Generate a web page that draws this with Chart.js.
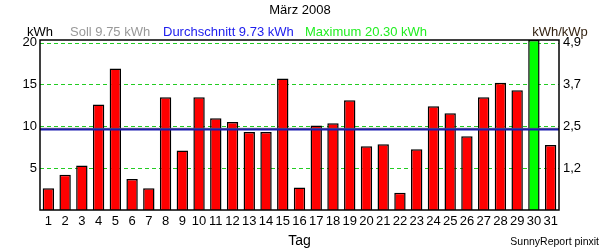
<!DOCTYPE html>
<html>
<head>
<meta charset="utf-8">
<script src="https://cdn.jsdelivr.net/npm/chart.js@4/dist/chart.umd.min.js"></script>
<style>
  html, body { margin: 0; padding: 0; background: #fff; }
  #wrap { width: 600px; height: 250px; position: relative; }
</style>
</head>
<body>
<div id="wrap"><canvas id="dayChart"></canvas></div>
<script>
// Tagesertrag März 2008 (kWh)
const days = ['1','2','3','4','5','6','7','8','9','10','11','12','13','14','15','16',
              '17','18','19','20','21','22','23','24','25','26','27','28','29','30','31'];
const yields = [2.6, 4.2, 5.3, 12.6, 16.9, 3.7, 2.6, 13.45, 7.1, 13.45,
                10.95, 10.5, 9.3, 9.3, 15.7, 2.7, 10.1, 10.35, 13.1, 7.6,
                7.85, 2.05, 7.25, 12.4, 11.55, 8.8, 13.45, 15.2, 14.3, 20.3, 7.75];
const leftTicks = [5, 10, 15, 20];
const rightTickLabels = ['1,2', '2,5', '3,7', '4,9'];
const soll = 9.75;
const average = 9.73;
const maximum = 20.30;

const fontFamily = '"Liberation Sans", Arial, sans-serif';
const maxValue = Math.max(...yields);
const barColors = yields.map(v => v === maxValue ? '#00ff00' : '#ff0000');

function hLine(ctx, area, y, color, width, dash) {
    ctx.strokeStyle = color;
    ctx.lineWidth = width;
    ctx.setLineDash(dash || []);
    ctx.beginPath();
    ctx.moveTo(area.left, y);
    ctx.lineTo(area.right, y);
    ctx.stroke();
}

// Gitter, Soll/Durchschnitt-Linien, Überschrift und Legendenzeile
const reportPlugin = {
    id: 'report',
    beforeDatasetsDraw(chart) {
        const { ctx, chartArea, scales } = chart;
        ctx.save();
        leftTicks.forEach(v => {
            hLine(ctx, chartArea, Math.round(scales.y.getPixelForValue(v)) + 0.5, '#22cc22', 1, [4, 3]);
        });
        ctx.restore();
    },
    afterDatasetsDraw(chart) {
        const { ctx, chartArea, scales } = chart;
        ctx.save();
        hLine(ctx, chartArea, scales.y.getPixelForValue(soll), '#666666', 1);
        hLine(ctx, chartArea, scales.y.getPixelForValue(average) + 1, '#1a1ab0', 2);
        // Rahmen
        ctx.setLineDash([]);
        ctx.strokeStyle = '#000';
        ctx.lineWidth = 1.5;
        ctx.strokeRect(chartArea.left, chartArea.top, chartArea.right - chartArea.left, chartArea.bottom - chartArea.top);
        ctx.restore();
    },
    afterDraw(chart) {
        const { ctx, chartArea } = chart;
        ctx.save();
        ctx.textBaseline = 'middle';
        ctx.font = '13px ' + fontFamily;
        ctx.fillStyle = '#000';
        ctx.textAlign = 'center';
        ctx.fillText('März 2008', 300, 10);

        ctx.fillText('kWh', chartArea.left, 32);
        ctx.fillStyle = '#332211';
        ctx.fillText('kWh/kWp', chartArea.right + 1, 32);

        ctx.textAlign = 'left';
        ctx.fillStyle = '#999999';
        ctx.fillText('Soll ' + soll.toFixed(2) + ' kWh', 70, 32);
        ctx.fillStyle = '#2020ee';
        ctx.fillText('Durchschnitt ' + average.toFixed(2) + ' kWh', 163, 32);
        ctx.fillStyle = '#22ee22';
        ctx.fillText('Maximum ' + maximum.toFixed(2) + ' kWh', 305, 32);

        ctx.font = '10.5px ' + fontFamily;
        ctx.fillStyle = '#000';
        ctx.textAlign = 'right';
        ctx.fillText('SunnyReport pinxit', 599, 242);
        ctx.restore();
    }
};

const ctx = document.getElementById('dayChart').getContext('2d');
const dayChart = new Chart(ctx, {
    type: 'bar',
    data: {
        labels: days,
        datasets: [{
            data: yields,
            backgroundColor: barColors,
            borderColor: '#000',
            borderWidth: 1.5,
            borderSkipped: 'bottom',
            barPercentage: 0.68,
            categoryPercentage: 1.0
        }]
    },
    options: {
        responsive: true,
        maintainAspectRatio: false,
        animation: false,
        layout: { padding: { top: 40, left: 0, right: 0, bottom: 0 } },
        plugins: {
            legend: { display: false },
            tooltip: { enabled: false }
        },
        scales: {
            x: {
                grid: { display: false, drawTicks: false },
                border: { display: false },
                ticks: {
                    color: '#000',
                    font: { family: fontFamily, size: 13 },
                    padding: 4,
                    maxRotation: 0,
                    autoSkip: false
                },
                title: {
                    display: true,
                    text: 'Tag',
                    color: '#000',
                    font: { family: fontFamily, size: 14 },
                    padding: { top: 0, bottom: 0 }
                },
                afterFit: s => { s.height = 40; }
            },
            y: {
                position: 'left',
                min: 0,
                max: maxValue,
                afterBuildTicks: s => { s.ticks = leftTicks.map(v => ({ value: v })); },
                grid: { display: false, drawTicks: false },
                border: { display: false },
                ticks: {
                    color: '#000',
                    font: { family: fontFamily, size: 13 },
                    padding: 3
                },
                afterFit: s => { s.width = 40; }
            },
            y2: {
                position: 'right',
                min: 0,
                max: maxValue,
                afterBuildTicks: s => { s.ticks = leftTicks.map(v => ({ value: v })); },
                grid: { display: false, drawTicks: false },
                border: { display: false },
                ticks: {
                    color: '#000',
                    font: { family: fontFamily, size: 13 },
                    padding: 4,
                    callback: (v, i) => rightTickLabels[i]
                },
                afterFit: s => { s.width = 41; }
            }
        }
    },
    plugins: [reportPlugin]
});
</script>
</body>
</html>
